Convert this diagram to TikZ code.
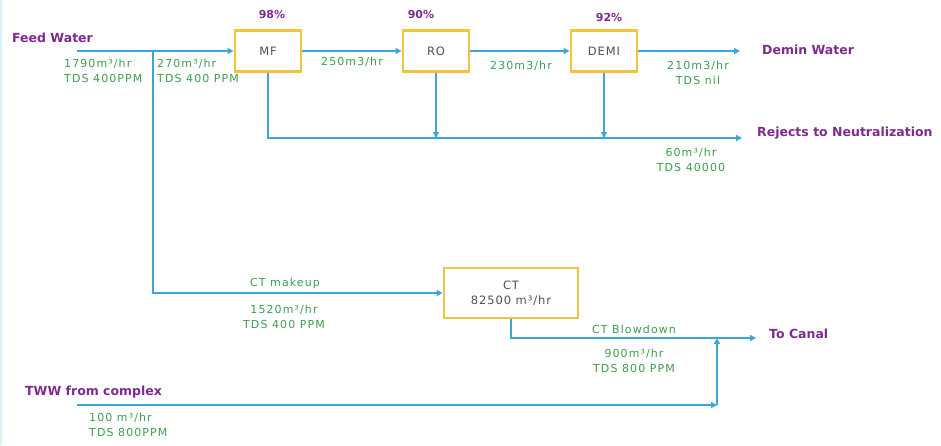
\documentclass[tikz,border=0pt]{standalone}
\usepackage{fontspec}
\setmainfont{DejaVu Sans}
\newfontfamily\gfont[LetterSpace=10]{DejaVu Sans}
\newfontfamily\bfont[LetterSpace=8]{DejaVu Sans}
\usetikzlibrary{arrows.meta}
\definecolor{flow}{HTML}{3DA6D8}
\definecolor{boxc}{HTML}{F3C33C}
\definecolor{purp}{HTML}{7D2C8E}
\definecolor{grn}{HTML}{3E9E4E}
\definecolor{boxtext}{HTML}{505050}
\definecolor{edge}{HTML}{D8F2FA}
\tikzset{
  unit/.style={draw=boxc, line width=2.8pt, fill=white, minimum width=66pt, minimum height=41pt,
    font=\bfont\fontsize{11.5}{15}\selectfont, text=boxtext, inner sep=0pt, align=center},
  lbl/.style={text=purp, font=\bfseries\fontsize{12.5}{14}\selectfont, inner sep=0pt},
  pct/.style={text=purp, font=\bfseries\fontsize{11}{13}\selectfont, inner sep=0pt},
  gtxt/.style={text=grn, font=\gfont\fontsize{11}{15.5}\selectfont, align=center, inner sep=0pt},
  flowline/.style={draw=flow, line width=1.7pt},
  arr/.style={flowline, -{Triangle[length=6pt,width=6pt]}}
}
\begin{document}
\begin{tikzpicture}[x=1pt,y=-1pt]
\useasboundingbox (0,0) rectangle (941,445);
\fill[white] (0,0) rectangle (941,445);
\draw[draw=edge, line width=1.5pt] (0.75,0) -- (0.75,445);

% units
\node[unit] (mf) at (268,51) {MF};
\node[unit] (ro) at (436,51) {RO};
\node[unit] (demi) at (604,51) {DEMI};
\node[unit, minimum width=134pt, minimum height=50pt] (ct) at (511,293) {CT\\82500 m³/hr};

% coordinates
\coordinate (feed) at (77,51);
\coordinate (br) at (153,51);
\coordinate (brd) at (153,293);
\coordinate (rejL) at (268,138);
\coordinate (rejR) at (742,138);
\coordinate (demiout) at (740,51);
\coordinate (ctd) at (511,338);
\coordinate (canal) at (756,338);
\coordinate (join) at (717,338);
\coordinate (tww) at (77,405);
\coordinate (corner) at (717,405);

% connectors
\draw[arr] (feed) -- (mf.west);
\draw[arr] (br) -- (brd) -- (ct.west);
\draw[arr] (mf.east) -- (ro.west);
\draw[arr] (ro.east) -- (demi.west);
\draw[arr] (demi.east) -- (demiout);
\draw[arr] (mf.south) -- (rejL) -- (rejR);
\draw[arr] (ro.south) -- (ro.south |- rejL);
\draw[arr] (demi.south) -- (demi.south |- rejL);
\draw[arr] (ct.south) -- (ctd) -- (canal);
\draw[arr] (tww) -- (corner);
\draw[arr] (corner) -- (join);

% purple labels
\node[lbl, anchor=west] (fw) at (12,38) {Feed Water};
\node[pct] (p98) at (272,14) {98\%};
\node[pct] (p90) at (421,14) {90\%};
\node[pct] (p92) at (609,17) {92\%};
\node[lbl, anchor=west] (dw) at (762,50) {Demin Water};
\node[lbl, anchor=west] (rn) at (757,133) {Rejects to Neutralization};
\node[lbl, anchor=west] (tc) at (769,334) {To Canal};
\node[lbl, anchor=west] (tw) at (25,392) {TWW from complex};

% green flow data
\node[gtxt, anchor=west, align=left] (f1) at (64,71) {1790m³/hr\\TDS 400PPM};
\node[gtxt, anchor=west, align=left] (f2) at (157,71) {270m³/hr\\TDS 400 PPM};
\node[gtxt] (f3) at (352,62) {250m3/hr};
\node[gtxt] (f4) at (521,66) {230m3/hr};
\node[gtxt] (f5) at (698,73) {210m3/hr\\TDS nil};
\node[gtxt] (f6) at (691,160) {60m³/hr\\TDS 40000};
\node[gtxt] (f7) at (285,283) {CT makeup};
\node[gtxt] (f8) at (284,317) {1520m³/hr\\TDS 400 PPM};
\node[gtxt] (f9) at (634,329) {CT Blowdown};
\node[gtxt] (f10) at (634,361) {900m³/hr\\TDS 800 PPM};
\node[gtxt, anchor=west, align=left] (f11) at (89,425) {100 m³/hr\\TDS 800PPM};
\end{tikzpicture}
\end{document}
